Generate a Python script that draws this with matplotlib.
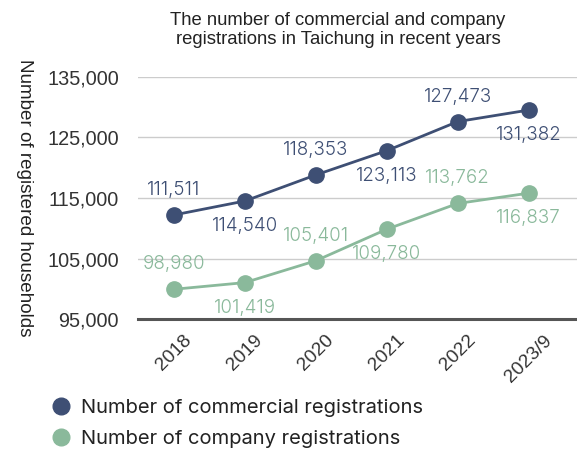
import matplotlib
matplotlib.use("Agg")
import matplotlib.pyplot as plt
import matplotlib.transforms as mtransforms
from matplotlib.lines import Line2D

# Daten
years = ["2018", "2019", "2020", "2021", "2022", "2023/9"]
# Punktlagen wie gezeichnet
commercial = [112200, 114500, 118800, 122800, 127600, 129500]
company = [99950, 101050, 104650, 109850, 114100, 115800]
# Beschriftungen wie im Bild
commercial_labels = ["111,511", "114,540", "118,353", "123,113", "127,473", "131,382"]
company_labels = ["98,980", "101,419", "105,401", "109,780", "113,762", "116,837"]
yticks = [95000, 105000, 115000, 125000, 135000]

title = "The number of commercial and company\nregistrations in Taichung in recent years"
ylabel = "Number of registered households"
legend_names = ["Number of commercial registrations", "Number of company registrations"]

navy = "#3e4f74"
green = "#8ab99b"
num_font = ["Inter", "DejaVu Sans"]
txt_font = ["Liberation Sans", "DejaVu Sans"]

fig = plt.figure(figsize=(5.77, 4.5), dpi=100)
ax = fig.add_axes([138.3 / 577, 1 - 319.3 / 450, 1 - 138.3 / 577, (319.3 - 76.7) / 450])

x = list(range(len(years)))
for vals, labels, col in [(commercial, commercial_labels, navy),
                          (company, company_labels, green)]:
    ax.plot(x, vals, color=col, lw=2, marker="o", ms=11, clip_on=False, zorder=3)
    for i, (v, lab) in enumerate(zip(vals, labels)):
        side = 1 if i % 2 == 0 else -1   # abwechselnd oben / unten
        ax.annotate(lab, (i, v), xytext=(0, 18 * side), textcoords="offset points",
                    ha="center", va="center", fontsize=13.5, color=col,
                    family=num_font, fontweight=300)

ax.set_xlim(-0.5, 5.68)
ax.set_ylim(95000, 135000)
ax.set_yticks(yticks)
ax.set_yticklabels([f"{v:,}" for v in yticks], family=txt_font, fontsize=14.3,
                   color="#333333")
ax.set_xticks(x)
ax.set_xticklabels(years, rotation=45, family=txt_font, fontsize=13.8, color="#333333")
shift = mtransforms.ScaledTranslation(-11 / 100, 0, fig.dpi_scale_trans)
for t in ax.get_xticklabels():
    t.set_transform(t.get_transform() + shift)
ax.tick_params(axis="both", length=0)
ax.tick_params(axis="y", pad=14)
ax.tick_params(axis="x", pad=9)

ax.yaxis.grid(True, color="#cccccc", lw=1)
ax.set_axisbelow(True)
for s in ["left", "top", "right"]:
    ax.spines[s].set_visible(False)
ax.spines["bottom"].set_color("#555555")
ax.spines["bottom"].set_linewidth(2.2)

fig.text(338 / 577, 1 - 30 / 450, title, ha="center", va="center", fontsize=13.3,
         linespacing=1.08, color="#222222", family=txt_font)
fig.text(24 / 577, 1 - 198 / 450, ylabel, rotation=-90, ha="center", va="center",
         fontsize=13.6, color="#222222", family=txt_font)

handles = [Line2D([], [], ls="none", marker="o", ms=12, color=c, label=n)
           for c, n in zip([navy, green], legend_names)]
fig.legend(handles=handles, loc="upper left", bbox_to_anchor=(51 / 577, 1 - 399 / 450),
           frameon=False, handlelength=1, handletextpad=0.47,
           labelspacing=0.62, borderpad=0, borderaxespad=0,
           prop={"family": num_font, "size": 14.5}, labelcolor="#222222")

fig.savefig("out.png", dpi=100)
